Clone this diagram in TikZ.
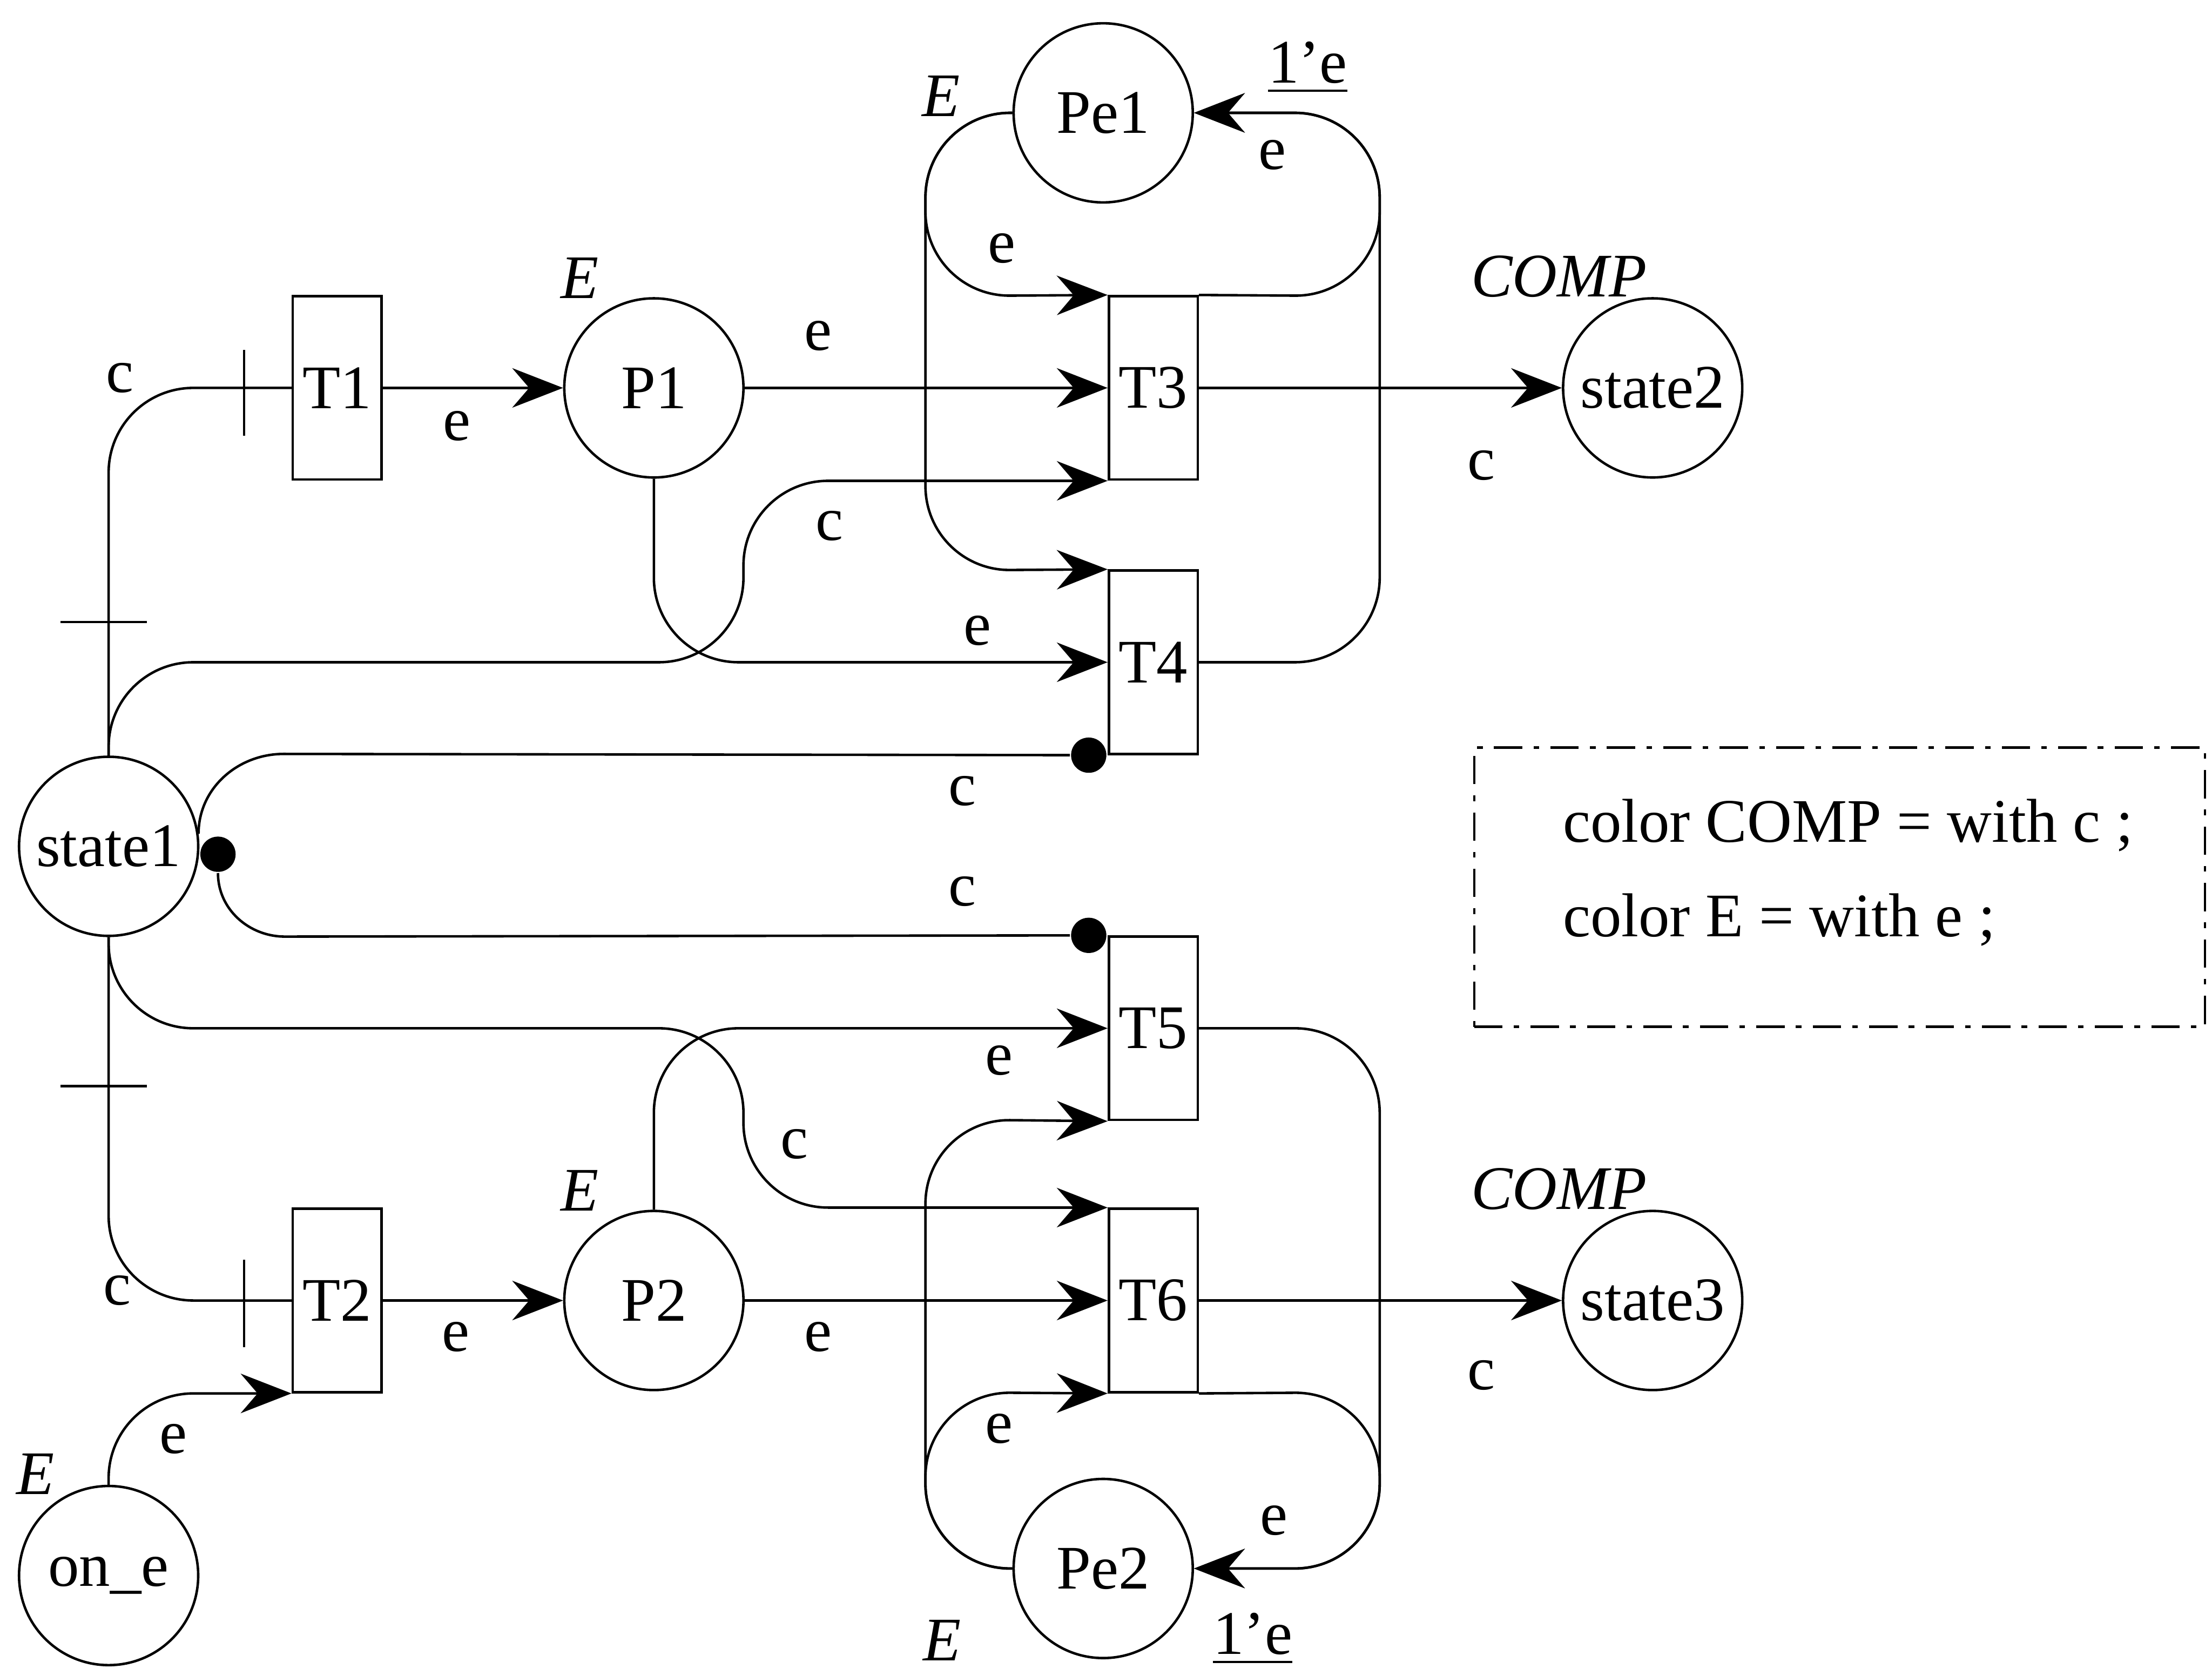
\documentclass[tikz,border=0pt]{standalone}
\usepackage{fontspec}
\setmainfont{Liberation Serif}
\usetikzlibrary{positioning, arrows.meta}

\tikzset{
  place/.style={circle, draw, minimum size=12.7mm, inner sep=0pt},
  trans/.style={rectangle, draw, minimum width=6.3mm, minimum height=13mm, inner sep=0pt},
  flow/.style={-{Stealth[length=3.6mm, width=2.8mm, inset=1.2mm]}, rounded corners=6mm},
  plain/.style={rounded corners=6mm},
  dot/.style={circle, fill, inner sep=0pt, minimum size=2.5mm},
  colset/.style={font=\fontsize{12.5}{15}\selectfont\itshape},
  decl/.style={draw, dash pattern=on 2mm off 0.8mm on 0.4mm off 0.8mm, minimum width=5.18cm, minimum height=1.98cm},
  declline/.style={anchor=west, inner sep=0pt},
}

\begin{document}
\begin{tikzpicture}[line width=0.5pt, font=\fontsize{12.5}{19}\selectfont]
    \useasboundingbox (0,0) rectangle (15.68,-11.83);

    % places
    \node (state1) [place] at (0.77,-6.00) {state1};
    \node (onE) [place] at (0.77,-11.17) {on\_e};
    \node (Pe1) [place] at (7.82,-0.80) {Pe1};
    \node (Pe2) [place] at (7.82,-11.12) {Pe2};

    % transitions
    \node (T1) [trans] at (2.39,-2.75) {T1};
    \node (T2) [trans] at (2.39,-9.22) {T2};
    \node (T3) [trans] at (8.175,-2.75) {T3};
    \node (T4) [trans] at (8.175,-4.695) {T4};
    \node (T5) [trans] at (8.175,-7.29) {T5};
    \node (T6) [trans] at (8.175,-9.22) {T6};

    \node (P1) [place, right of=T1, node distance=2.245cm] {P1};
    \node (P2) [place, right of=T2, node distance=2.245cm] {P2};
    \node (state2) [place, right of=T3, node distance=3.54cm] {state2};
    \node (state3) [place, right of=T6, node distance=3.54cm] {state3};

    % inhibitor dots
    \node (inhT4) [dot, left=0pt of T4.south west] {};
    \node (inhT5) [dot, left=0pt of T5.north west] {};
    \node (inhS1) [dot, anchor=west] at (state1.-5) {};

    % upper half
    \draw [plain] (state1.north) |- (T1.west);
    \draw [flow] (T1) -- (P1);
    \draw [flow] (P1) -- (T3);
    \draw [flow] (T3) -- (state2);
    \draw [flow] (state1.north) |- (5.27,-4.695) |- (T3.south west);
    \draw [flow] (P1.south) |- (T4.west);
    \draw [flow] (Pe1.west) -| (6.56,-2.10) -- (T3.north west);
    \draw [flow] (Pe1.west) -| (6.56,-4.045) -- (T4.north west);
    \draw [flow] (T3.north east) -- (9.78,-2.10) |- (Pe1.east);
    \draw [flow] (T4.east) -- (9.78,-4.695) |- (Pe1.east);
    \draw (state1.8) to[out=90, in=180] (2.01,-5.345) -- (inhT4);

    % lower half
    \draw (inhS1) to[out=-90, in=180] (2.02,-6.64) -- (inhT5);
    \draw [plain] (state1.south) |- (T2.west);
    \draw [flow] (T2) -- (P2);
    \draw [flow] (P2) -- (T6);
    \draw [flow] (T6) -- (state3);
    \draw [flow] (state1.south) |- (5.27,-7.29) |- (T6.north west);
    \draw [flow] (P2.north) |- (T5.west);
    \draw [flow] (onE.north) |- (T2.south west);
    \draw [flow] (Pe2.west) -| (6.56,-7.935) -- (T5.south west);
    \draw [flow] (Pe2.west) -| (6.56,-9.87) -- (T6.south west);
    \draw [flow] (T5.east) -- (9.78,-7.29) |- (Pe2.east);
    \draw [flow] (T6.south east) -- (9.78,-9.87) |- (Pe2.east);

    % ticks on the state1 arcs
    \draw (0.43,-4.41) -- (1.04,-4.41);
    \draw (1.73,-2.48) -- (1.73,-3.09);
    \draw (0.43,-7.70) -- (1.04,-7.70);
    \draw (1.73,-8.93) -- (1.73,-9.55);

    % arc inscriptions
    \node (cT1) at (0.85,-2.68) {c};
    \node (eT1) at (3.24,-3.02) {e};
    \node (eP1) at (5.80,-2.38) {e};
    \node (cS2) at (10.50,-3.30) {c};
    \node (cT3) at (5.88,-3.73) {c};
    \node (eT4) at (6.93,-4.47) {e};
    \node (cT4) at (6.82,-5.61) {c};
    \node (cT5) at (6.82,-6.32) {c};
    \node (eT5) at (7.08,-7.52) {e};
    \node (cT6) at (5.63,-8.11) {c};
    \node (cT2) at (0.83,-9.15) {c};
    \node (eT2) at (3.23,-9.48) {e};
    \node (eP2) at (5.80,-9.48) {e};
    \node (cS3) at (10.50,-9.75) {c};
    \node (eT6) at (7.08,-10.13) {e};
    \node (eOn) at (1.23,-10.20) {e};
    \node (ePe2) at (9.03,-10.78) {e};
    \node (ePe1) at (9.02,-1.10) {e};
    \node (eT3) at (7.10,-1.76) {e};
    \node (mPe1) at (9.27,-0.48) {\underline{1'e}};
    \node (mPe2) at (8.88,-11.62) {\underline{1'e}};

    % colour sets
    \node (tPe1) [colset] at (6.67,-0.68) {E};
    \node (tP1) [colset] at (4.11,-1.97) {E};
    \node (tS2) [colset] at (11.05,-1.96) {COMP};
    \node (tP2) [colset] at (4.11,-8.44) {E};
    \node (tS3) [colset] at (11.05,-8.43) {COMP};
    \node (tOn) [colset] at (0.25,-10.45) {E};
    \node (tPe2) [colset] at (6.68,-11.63) {E};

    % declarations
    \node (decls) [decl] at (13.04,-6.29) {};
    \node (declC) [declline] at (11.07,-5.85) {color COMP = with c ;};
    \node (declE) [declline] at (11.07,-6.52) {color E = with e ;};
\end{tikzpicture}
\end{document}
